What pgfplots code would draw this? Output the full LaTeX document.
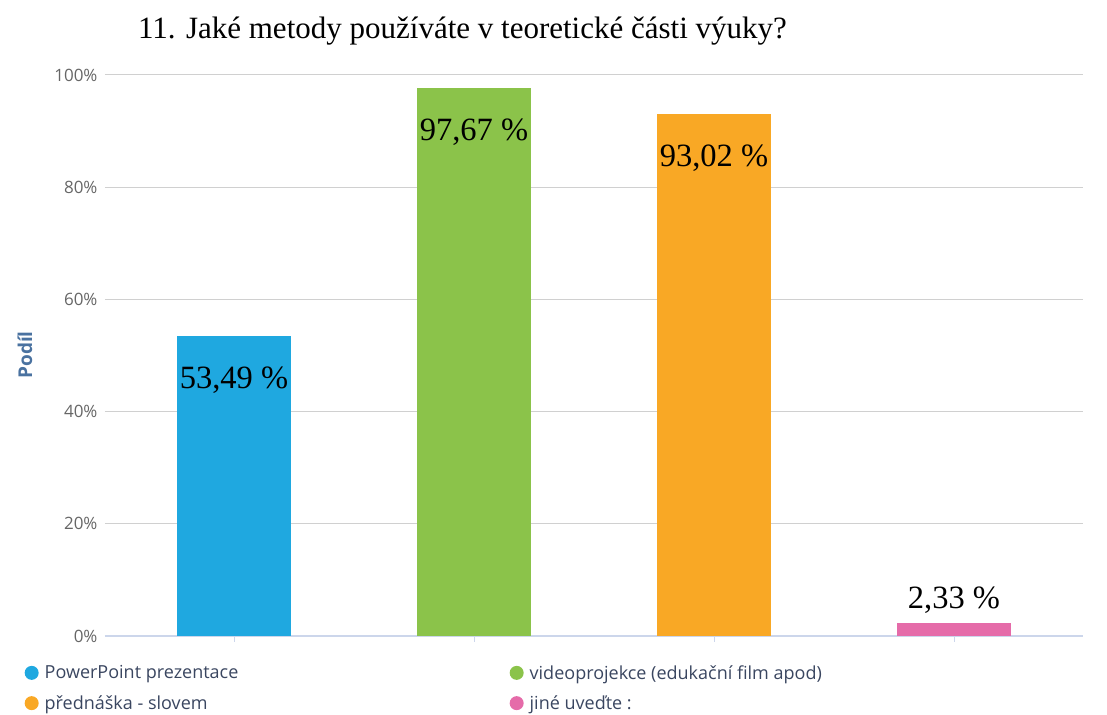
\documentclass[border=0pt]{standalone}
\usepackage{pgfplots}
\pgfplotsset{compat=1.18}
\usepackage{fontspec}
\setmainfont{Liberation Serif}
\newfontfamily\sansf{Open Sans}
\definecolor{cblue}{HTML}{1FA8E0}
\definecolor{cgreen}{HTML}{8BC34A}
\definecolor{corange}{HTML}{F9A825}
\definecolor{cpink}{HTML}{E56BA9}
\definecolor{gridc}{HTML}{D0D0D0}
\definecolor{axc}{HTML}{CCD6EB}
\definecolor{tickc}{HTML}{666666}
\definecolor{legc}{HTML}{3A4660}
\definecolor{ylabc}{HTML}{4A72A0}
\begin{document}
\begin{tikzpicture}[x=1pt,y=1pt]
\path[use as bounding box] (0,0) rectangle (1107,714);
\node[font=\fontsize{31}{34}\selectfont] at (462.5,683) {11. Jaké metody používáte v teoretické části výuky?};
\begin{axis}[
  at={(105pt,78pt)}, anchor=south west,
  scale only axis, width=978pt, height=561pt,
  ybar, bar width=114pt, bar shift=0pt,
  xmin=-0.5375, xmax=3.5375, ymin=0, ymax=100,
  xtick={0,1,2,3}, xticklabels={}, 
  ytick={0,20,40,60,80,100},
  yticklabel={\pgfmathprintnumber{\tick}\%},
  /pgf/number format/assume math mode=true,
  yticklabel style={font=\sansf\fontsize{17}{19}\selectfont, text=tickc, xshift=2pt},
  ymajorgrids, grid style={gridc, line width=1pt},
  axis x line*=bottom, axis y line*=left,
  y axis line style={draw=none},
  x axis line style={axc, line width=1.2pt, -},
  xtick style={axc, line width=1pt}, tick align=outside, major tick length=6pt,
  ytick style={draw=none},
  ylabel={Podíl},
  every axis y label/.style={at={(axis description cs:-0.0818,0.501)}, rotate=90, anchor=center, font=\sansf\bfseries\fontsize{19}{21}\selectfont, text=ylabc},
  nodes near coords, point meta=explicit symbolic,
  every node near coord/.append style={font=\fontsize{32.5}{34}\selectfont, text=black, anchor=center},
  every axis plot post/.append style={legend image code/.code={\fill[##1] (0pt,0pt) circle (7pt); \path (11pt,0pt);}},
  legend columns=2,
  legend style={at={(axis description cs:-0.0854,-0.0446)}, anchor=north west, draw=none, fill=none,
    font=\sansf\fontsize{18}{20}\selectfont, text=legc, row sep=11pt,
    nodes={inner sep=2pt}},
  legend cell align=left,
]
\addplot[fill=cblue, draw=none, every node near coord/.append style={yshift=-44pt}] coordinates {(0,53.49) [53,49 \%]};
\addlegendentry{\makebox[463pt][l]{PowerPoint prezentace}}
\addplot[fill=cgreen, draw=none, every node near coord/.append style={yshift=-44pt}] coordinates {(1,97.67) [97,67 \%]};
\addlegendentry{videoprojekce (edukační film apod)}
\addplot[fill=corange, draw=none, every node near coord/.append style={yshift=-44pt}] coordinates {(2,93.02) [93,02 \%]};
\addlegendentry{\makebox[463pt][l]{přednáška - slovem}}
\addplot[fill=cpink, draw=none, every node near coord/.append style={yshift=23pt}] coordinates {(3,2.33) [2,33 \%]};
\addlegendentry{jiné uveďte :}
\end{axis}
\end{tikzpicture}
\end{document}
